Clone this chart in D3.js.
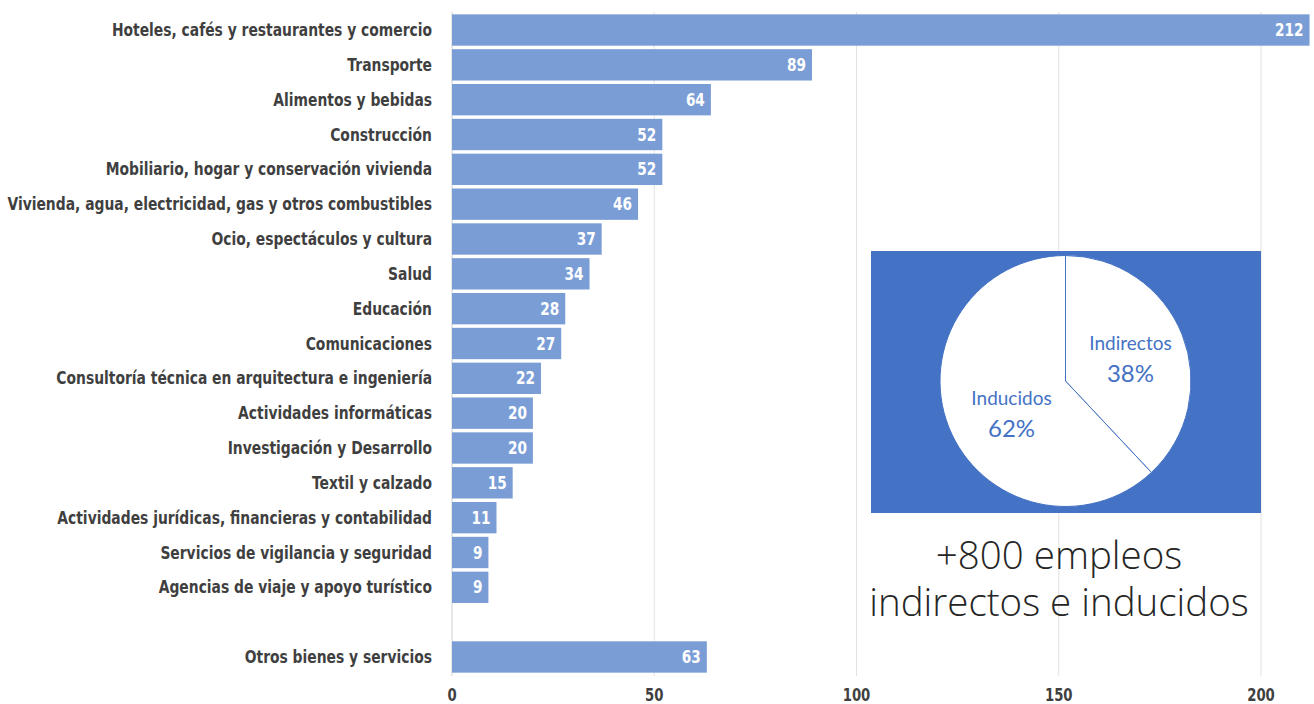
<!DOCTYPE html>
<html>
<head>
<meta charset="utf-8">
<script src="https://cdn.jsdelivr.net/npm/d3@7"></script>
<style>
  body { margin: 0; background: #fff; }
  svg { display: block; }
</style>
</head>
<body>
<svg id="chart" width="1314" height="704"></svg>
<script>
  var categories = [
    "Hoteles, cafés y restaurantes y comercio",
    "Transporte",
    "Alimentos y bebidas",
    "Construcción",
    "Mobiliario, hogar y conservación vivienda",
    "Vivienda, agua, electricidad, gas y otros combustibles",
    "Ocio, espectáculos y cultura",
    "Salud",
    "Educación",
    "Comunicaciones",
    "Consultoría técnica en arquitectura e ingeniería",
    "Actividades informáticas",
    "Investigación y Desarrollo",
    "Textil y calzado",
    "Actividades jurídicas, financieras y contabilidad",
    "Servicios de vigilancia y seguridad",
    "Agencias de viaje y apoyo turístico",
    "",
    "Otros bienes y servicios"
  ];
  var values = [212, 89, 64, 52, 52, 46, 37, 34, 28, 27, 22, 20, 20, 15, 11, 9, 9, null, 63];
  var xTicks = [0, 50, 100, 150, 200];

  var pieLabels = ["Indirectos", "Inducidos"];
  var pieShares = [38, 62];
  var headline = ["+800 empleos", "indirectos e inducidos"];

  var svg = d3.select("#chart");
  var labelFont = "'DejaVu Sans', sans-serif";

  var x = d3.scaleLinear().domain([0, 200]).range([452, 1261]);
  var y = d3.scaleBand().domain(d3.range(categories.length))
    .range([12.6, 674.4]).paddingInner(0.1).paddingOuter(0.05);

  // gridlines
  svg.append("g").selectAll("line")
    .data(xTicks)
    .enter().append("line")
    .attr("x1", function (d) { return x(d); })
    .attr("x2", function (d) { return x(d); })
    .attr("y1", 12)
    .attr("y2", 676)
    .attr("stroke", function (d) { return d === 0 ? "#d0d0d0" : "#e2e2e2"; })
    .attr("stroke-width", 1);

  var rows = categories.map(function (c, i) { return { name: c, value: values[i], i: i }; })
    .filter(function (d) { return d.value != null; });

  // bars
  svg.append("g").selectAll("rect")
    .data(rows)
    .enter().append("rect")
    .attr("x", x(0))
    .attr("y", function (d) { return y(d.i); })
    .attr("width", function (d) { return x(d.value) - x(0); })
    .attr("height", y.bandwidth())
    .attr("fill", "#7b9dd6");

  // condensed look: squeeze DejaVu bold horizontally
  var squeeze = 0.78;

  // value labels
  svg.append("g").selectAll("text")
    .data(rows)
    .enter().append("text")
    .attr("transform", function (d) {
      return "translate(" + (x(d.value) - 6) + "," + (y(d.i) + y.bandwidth() / 2) + ") scale(" + squeeze + ",1)";
    })
    .attr("dy", "0.35em")
    .attr("text-anchor", "end")
    .attr("fill", "#fff")
    .attr("font-family", labelFont)
    .attr("font-weight", "bold")
    .attr("font-size", 17.5)
    .text(function (d) { return d.value; });

  // category labels
  var catG = svg.append("g");
  var catText = catG.selectAll("text")
    .data(rows)
    .enter().append("text")
    .attr("dy", "0.35em")
    .attr("text-anchor", "end")
    .attr("fill", "#3f3f3f")
    .attr("font-family", labelFont)
    .attr("font-weight", "bold")
    .attr("font-size", 17.5)
    .text(function (d) { return d.name; });

  // fit the longest label to the width it has in the original
  var widest = d3.max(catText.nodes(), function (n) { return n.getComputedTextLength(); });
  var k = 425 / widest;
  catText.attr("transform", function (d) {
    return "translate(432," + (y(d.i) + y.bandwidth() / 2) + ") scale(" + k + ",1)";
  });

  // x axis labels
  svg.append("g").selectAll("text")
    .data(xTicks)
    .enter().append("text")
    .attr("transform", function (d) { return "translate(" + x(d) + ",695) scale(" + squeeze + ",1)"; })
    .attr("dy", "0.35em")
    .attr("text-anchor", "middle")
    .attr("fill", "#3f3f3f")
    .attr("font-family", labelFont)
    .attr("font-weight", "bold")
    .attr("font-size", 17)
    .text(function (d) { return d; });

  // inset with pie
  svg.append("rect")
    .attr("x", 871).attr("y", 251)
    .attr("width", 390).attr("height", 262)
    .attr("fill", "#4472c4");

  var cx = 1065.5, cy = 381, r = 125.5;
  var pie = d3.pie().sort(null)(pieShares);
  var arc = d3.arc().innerRadius(0).outerRadius(r);
  var pg = svg.append("g").attr("transform", "translate(" + cx + "," + cy + ")");
  pg.selectAll("path")
    .data(pie)
    .enter().append("path")
    .attr("d", arc)
    .attr("fill", "#fff")
    .attr("stroke", "#4472c4")
    .attr("stroke-width", 1);

  var pieLabelPos = [[65, -31], [-54, 24]];
  pieLabels.forEach(function (name, i) {
    var t = pg.append("text")
      .attr("text-anchor", "middle")
      .attr("fill", "#4472c4")
      .attr("font-family", "Lato, 'Open Sans', sans-serif")
      .attr("font-size", 19);
    t.append("tspan").attr("x", pieLabelPos[i][0]).attr("y", pieLabelPos[i][1]).text(name);
    t.append("tspan").attr("x", pieLabelPos[i][0]).attr("y", pieLabelPos[i][1] + 32)
      .attr("font-size", 24).text(pieShares[i] + "%");
  });

  // headline
  svg.append("g").selectAll("text")
    .data(headline)
    .enter().append("text")
    .attr("x", 1059)
    .attr("y", function (d, i) { return 569 + i * 47; })
    .attr("text-anchor", "middle")
    .attr("fill", "#262626")
    .attr("font-family", "'Open Sans', sans-serif")
    .attr("font-weight", 300)
    .attr("font-size", 38.5)
    .text(function (d) { return d; });
</script>
</body>
</html>
